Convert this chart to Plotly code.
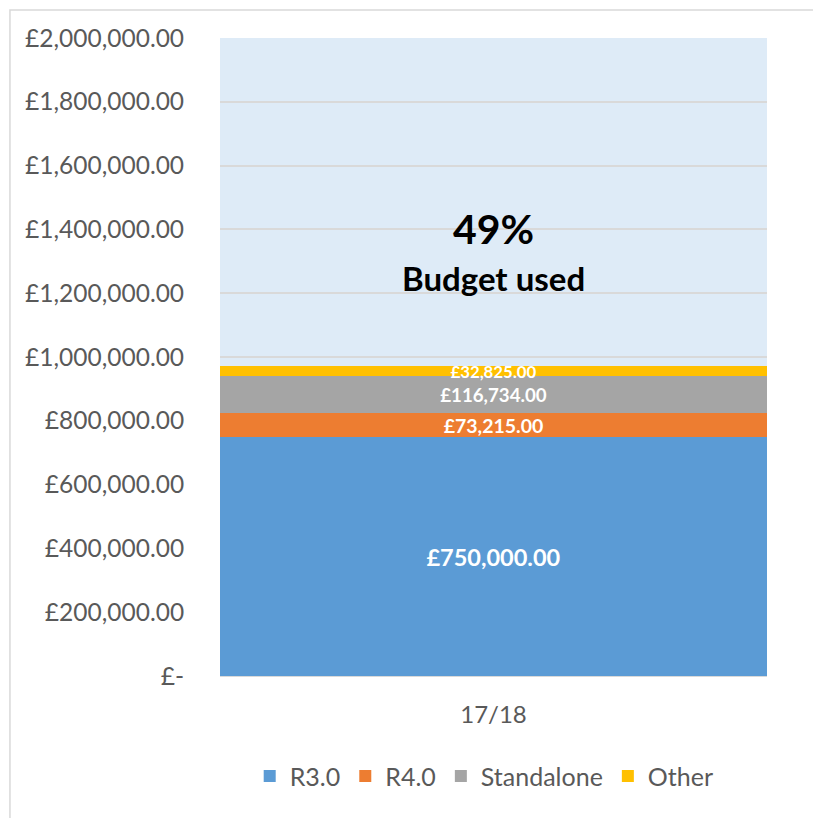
import plotly.graph_objects as go

# budget year and spend per stream
category = ["17/18"]
series_names = ["R3.0", "R4.0", "Standalone", "Other"]
series_values = [750000, 73215, 116734, 32825]
total_budget = 2000000
y_ticks = [0, 200000, 400000, 600000, 800000, 1000000, 1200000, 1400000, 1600000, 1800000, 2000000]

colors = ["#5B9BD5", "#ED7D31", "#A5A5A5", "#FFC000"]
label_sizes = [23.5, 19.5, 18.7, 16.8]

tick_text = ["£-" if v == 0 else f"£{v:,.2f}" for v in y_ticks]
pct_used = round(100 * sum(series_values) / total_budget)

fig = go.Figure()
for name, val, col, fs in zip(series_names, series_values, colors, label_sizes):
    fig.add_trace(go.Bar(
        x=category,
        y=[val],
        name=name,
        marker_color=col,
        marker_line_width=0,
        texttemplate="<b>£%{y:,.2f}</b>",
        textposition="inside",
        insidetextanchor="middle",
        constraintext="none",
        textfont=dict(color="white", size=fs, family="Lato"),
    ))

# frame around the chart area
fig.add_shape(type="rect", xref="paper", yref="paper",
              x0=-0.384, x1=1.2, y0=-0.3, y1=1.0439,
              line=dict(color="#D9D9D9", width=1.5), layer="below")

fig.add_annotation(text=f"<b>{pct_used}%</b>", xref="paper", yref="paper",
                   x=0.5, y=0.702, xanchor="center", yanchor="middle", showarrow=False,
                   font=dict(size=41, color="black", family="Lato"))
fig.add_annotation(text="<b>Budget used</b>", xref="paper", yref="paper",
                   x=0.5, y=0.624, xanchor="center", yanchor="middle", showarrow=False,
                   font=dict(size=33, color="black", family="Lato"))

# page body adds 8px margin, so figure is 813x810 to fill the 821x818 window
fig.update_layout(
    width=813, height=810,
    barmode="stack", bargap=0,
    paper_bgcolor="white",
    plot_bgcolor="#DEEBF7",
    margin=dict(l=212, r=54, t=30, b=142),
    font=dict(family="Lato", color="#595959", size=24),
    legend=dict(orientation="h", traceorder="normal", x=0.483, xanchor="center",
                y=-0.157, yanchor="middle", itemwidth=30,
                font=dict(size=25, color="#595959")),
    xaxis=dict(showgrid=False, showline=True, linecolor="#D9D9D9", linewidth=1,
               ticks="outside", ticklen=17, tickcolor="rgba(0,0,0,0)",
               tickfont=dict(size=24, color="#595959")),
    yaxis=dict(range=[0, total_budget], tickvals=y_ticks, ticktext=tick_text,
               showgrid=True, gridcolor="#D9D9D9", gridwidth=1.5, zeroline=False,
               ticks="outside", ticklen=30, tickcolor="rgba(0,0,0,0)",
               tickfont=dict(size=24.5, color="#595959")),
)

fig.write_html("out.html")
